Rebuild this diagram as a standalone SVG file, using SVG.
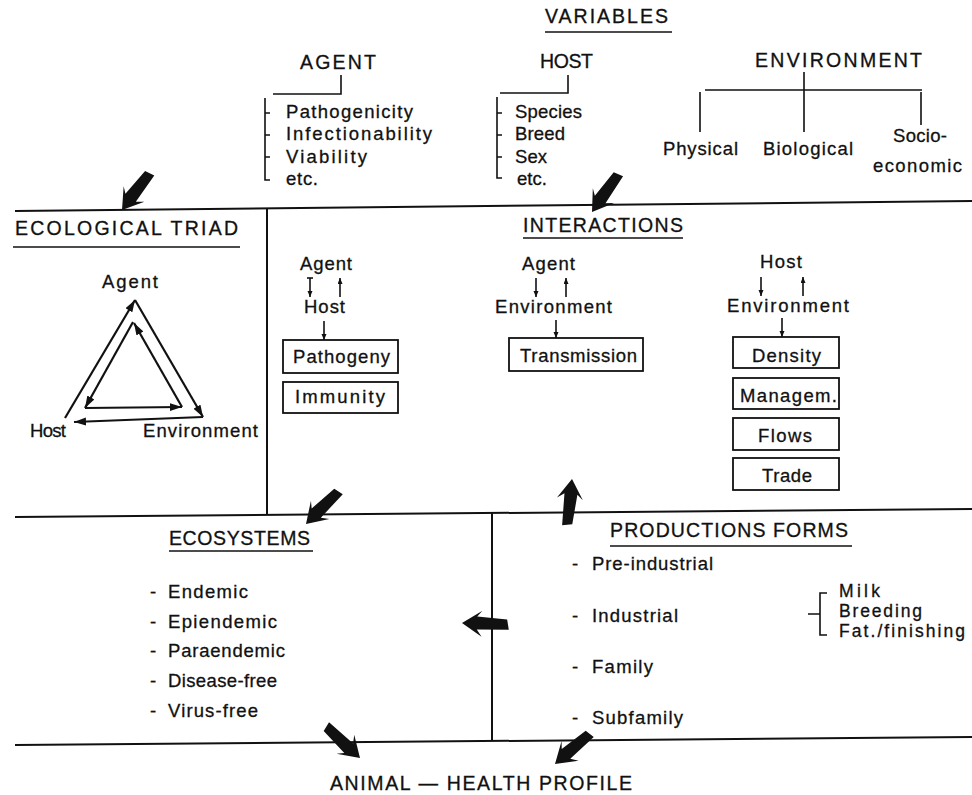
<svg xmlns="http://www.w3.org/2000/svg" xmlns:xlink="http://www.w3.org/1999/xlink" width="972" height="795" viewBox="0 0 972 795">
  <style>
    text { font-family: "Liberation Sans", Arial, sans-serif; fill: #111; stroke: #111; stroke-width: 0.3; }
    .title { font-size: 19.5px; }
    .body { font-size: 18.5px; }
    .small { font-size: 17.5px; }
    .rule { stroke: #111; stroke-width: 2; fill: none; }
    .thin { stroke: #111; stroke-width: 1.6; fill: none; }
    .box { stroke: #111; stroke-width: 1.8; fill: none; }
    .fat { fill: #111; }
  </style>
  <defs>
    <marker id="tri" markerUnits="userSpaceOnUse" markerWidth="14" markerHeight="10" refX="12" refY="4" orient="auto">
      <path d="M0,0 L12,4 L0,8 z" fill="#111"/>
    </marker>
    <marker id="sm" markerUnits="userSpaceOnUse" markerWidth="8" markerHeight="6" refX="6" refY="2.5" orient="auto">
      <path d="M0,0 L6,2.5 L0,5 z" fill="#111"/>
    </marker>
    <!-- heavy hand-drawn style arrow, tip at origin, pointing along +x -->
    <path id="fatArrow" d="M0,0 L-20,-13 L-15,-6 L-47,-5 L-45,5 L-15,7 L-20,13 Z"/>
  </defs>

  <rect width="972" height="795" fill="#fff"/>

  <!-- frame rules -->
  <g id="frame">
    <line class="rule" x1="15" y1="211" x2="972" y2="201"/>
    <line class="rule" x1="15" y1="517" x2="972" y2="509"/>
    <line class="rule" x1="15" y1="745" x2="972" y2="737"/>
    <line class="rule" x1="267" y1="208" x2="267" y2="515"/>
    <line class="rule" x1="492" y1="513" x2="492" y2="741"/>
  </g>

  <!-- VARIABLES -->
  <g id="variables">
    <text class="title" x="545" y="23" textLength="123" lengthAdjust="spacing">VARIABLES</text>
    <line class="thin" x1="545" y1="32" x2="672" y2="32"/>
  </g>

  <g id="agent-vars">
    <text class="title" x="300" y="69" textLength="76" lengthAdjust="spacing">AGENT</text>
    <path class="thin" d="M341,75 V94 H273"/>
    <path class="thin" d="M265,98 V180 h5 M265,113 h5 M265,135 h5 M265,157 h5"/>
    <text class="body" x="286" y="118" textLength="127" lengthAdjust="spacing">Pathogenicity</text>
    <text class="body" x="286" y="140" textLength="146" lengthAdjust="spacing">Infectionability</text>
    <text class="body" x="286" y="163" textLength="81" lengthAdjust="spacing">Viability</text>
    <text class="body" x="286" y="185" textLength="32" lengthAdjust="spacing">etc.</text>
  </g>

  <g id="host-vars">
    <text class="title" x="540" y="68" textLength="53" lengthAdjust="spacing">HOST</text>
    <path class="thin" d="M568,75 V93 H500"/>
    <path class="thin" d="M497,97 V178 h5 M497,113 h5 M497,135 h5 M497,157 h5"/>
    <text class="body" x="515" y="118" textLength="67" lengthAdjust="spacing">Species</text>
    <text class="body" x="515" y="140" textLength="50" lengthAdjust="spacing">Breed</text>
    <text class="body" x="515" y="163" textLength="32" lengthAdjust="spacing">Sex</text>
    <text class="body" x="517" y="185" textLength="30" lengthAdjust="spacing">etc.</text>
  </g>

  <g id="environment-vars">
    <text class="title" x="755" y="67" textLength="167" lengthAdjust="spacing">ENVIRONMENT</text>
    <path class="thin" d="M804,72 V132 M705,90 H922 M700,92 V132 M921,92 V125"/>
    <text class="body" x="663" y="155" textLength="75" lengthAdjust="spacing">Physical</text>
    <text class="body" x="763" y="155" textLength="90" lengthAdjust="spacing">Biological</text>
    <text class="body" x="893" y="142" textLength="54" lengthAdjust="spacing">Socio-</text>
    <text class="body" x="873" y="172" textLength="89" lengthAdjust="spacing">economic</text>
  </g>

  <!-- ECOLOGICAL TRIAD -->
  <g id="triad">
    <text class="title" x="15" y="235" textLength="223" lengthAdjust="spacing">ECOLOGICAL TRIAD</text>
    <line class="thin" x1="13" y1="247" x2="240" y2="247"/>
    <text class="body" x="102" y="288" textLength="56" lengthAdjust="spacing">Agent</text>
    <text class="body" x="30" y="437" textLength="36" lengthAdjust="spacing">Host</text>
    <text class="body" x="143" y="437" textLength="115" lengthAdjust="spacing">Environment</text>
    <g stroke="#111" stroke-width="2.2" fill="none">
      <!-- outer cycle -->
      <line x1="65" y1="418" x2="135" y2="300" marker-end="url(#tri)"/>
      <line x1="135" y1="300" x2="203" y2="417" marker-end="url(#tri)"/>
      <line x1="203" y1="417" x2="74" y2="422" marker-end="url(#tri)"/>
      <!-- inner cycle -->
      <line x1="133" y1="322" x2="85" y2="408" marker-end="url(#tri)"/>
      <line x1="85" y1="408" x2="182" y2="407" marker-end="url(#tri)"/>
      <line x1="182" y1="407" x2="134" y2="323" marker-end="url(#tri)"/>
    </g>
  </g>

  <!-- INTERACTIONS -->
  <g id="interactions">
    <text class="title" x="523" y="232" textLength="160" lengthAdjust="spacing">INTERACTIONS</text>
    <line class="thin" x1="523" y1="238" x2="683" y2="238"/>
  </g>

  <g id="agent-host">
    <text class="body" x="300" y="270" textLength="52" lengthAdjust="spacing">Agent</text>
    <text class="body" x="304" y="313" textLength="41" lengthAdjust="spacing">Host</text>
    <path class="thin" d="M307,278 h6"/>
    <line class="thin" x1="310" y1="278" x2="310" y2="297" marker-end="url(#sm)"/>
    <line class="thin" x1="340" y1="297" x2="340" y2="278" marker-end="url(#sm)"/>
    <line class="thin" x1="324" y1="321" x2="324" y2="340" marker-end="url(#sm)"/>
    <rect class="box" x="283" y="340" width="115" height="33"/>
    <text class="body" x="293" y="363" textLength="97" lengthAdjust="spacing">Pathogeny</text>
    <rect class="box" x="283" y="382" width="115" height="31"/>
    <text class="body" x="295" y="403" textLength="90" lengthAdjust="spacing">Immunity</text>
  </g>

  <g id="agent-environment">
    <text class="body" x="522" y="270" textLength="53" lengthAdjust="spacing">Agent</text>
    <text class="body" x="495" y="313" textLength="117" lengthAdjust="spacing">Environment</text>
    <line class="thin" x1="536" y1="278" x2="536" y2="297" marker-end="url(#sm)"/>
    <line class="thin" x1="566" y1="297" x2="566" y2="278" marker-end="url(#sm)"/>
    <line class="thin" x1="556" y1="320" x2="556" y2="338" marker-end="url(#sm)"/>
    <rect class="box" x="509" y="338" width="134" height="33"/>
    <text class="body" x="520" y="362" textLength="117" lengthAdjust="spacing">Transmission</text>
  </g>

  <g id="host-environment">
    <text class="body" x="760" y="268" textLength="42" lengthAdjust="spacing">Host</text>
    <text class="body" x="727" y="312" textLength="122" lengthAdjust="spacing">Environment</text>
    <line class="thin" x1="761" y1="277" x2="761" y2="296" marker-end="url(#sm)"/>
    <line class="thin" x1="803" y1="296" x2="803" y2="277" marker-end="url(#sm)"/>
    <line class="thin" x1="782" y1="318" x2="782" y2="337" marker-end="url(#sm)"/>
    <rect class="box" x="733" y="337" width="106" height="31"/>
    <text class="body" x="752" y="362" textLength="69" lengthAdjust="spacing">Density</text>
    <rect class="box" x="733" y="378" width="106" height="31"/>
    <text class="body" x="740" y="402" textLength="97" lengthAdjust="spacing">Managem.</text>
    <rect class="box" x="733" y="418" width="106" height="32"/>
    <text class="body" x="758" y="442" textLength="54" lengthAdjust="spacing">Flows</text>
    <rect class="box" x="733" y="458" width="106" height="32"/>
    <text class="body" x="762" y="482" textLength="50" lengthAdjust="spacing">Trade</text>
  </g>

  <!-- ECOSYSTEMS -->
  <g id="ecosystems">
    <text class="title" x="169" y="545" textLength="141" lengthAdjust="spacing">ECOSYSTEMS</text>
    <line class="thin" x1="169" y1="551" x2="313" y2="551"/>
    <text class="body" x="150" y="598">-</text>
    <text class="body" x="168" y="598" textLength="80" lengthAdjust="spacing">Endemic</text>
    <text class="body" x="150" y="628">-</text>
    <text class="body" x="168" y="628" textLength="109" lengthAdjust="spacing">Epiendemic</text>
    <text class="body" x="150" y="657">-</text>
    <text class="body" x="168" y="657" textLength="117" lengthAdjust="spacing">Paraendemic</text>
    <text class="body" x="150" y="687">-</text>
    <text class="body" x="168" y="687" textLength="109" lengthAdjust="spacing">Disease-free</text>
    <text class="body" x="150" y="717">-</text>
    <text class="body" x="168" y="717" textLength="90" lengthAdjust="spacing">Virus-free</text>
  </g>

  <!-- PRODUCTIONS FORMS -->
  <g id="production-forms">
    <text class="title" x="610" y="537" textLength="238" lengthAdjust="spacing">PRODUCTIONS FORMS</text>
    <line class="thin" x1="610" y1="546" x2="852" y2="546"/>
    <text class="body" x="572" y="570">-</text>
    <text class="body" x="592" y="570" textLength="121" lengthAdjust="spacing">Pre-industrial</text>
    <text class="body" x="572" y="622">-</text>
    <text class="body" x="592" y="622" textLength="86" lengthAdjust="spacing">Industrial</text>
    <text class="body" x="572" y="673">-</text>
    <text class="body" x="592" y="673" textLength="61" lengthAdjust="spacing">Family</text>
    <text class="body" x="572" y="724">-</text>
    <text class="body" x="592" y="724" textLength="91" lengthAdjust="spacing">Subfamily</text>
    <path class="thin" d="M827,593 H820 V635 H827 M808,614 H820"/>
    <text class="small" x="839" y="597" textLength="41" lengthAdjust="spacing">Milk</text>
    <text class="small" x="839" y="617" textLength="83" lengthAdjust="spacing">Breeding</text>
    <text class="small" x="839" y="637" textLength="126" lengthAdjust="spacing">Fat./finishing</text>
  </g>

  <!-- ANIMAL HEALTH PROFILE -->
  <g id="profile">
    <text class="title" x="330" y="790" textLength="302" lengthAdjust="spacing">ANIMAL — HEALTH PROFILE</text>
  </g>

  <!-- heavy flow arrows between sections -->
  <g id="connectors" class="fat">
    <use xlink:href="#fatArrow" transform="translate(122,210) rotate(127)"/>
    <use xlink:href="#fatArrow" transform="translate(592,212) rotate(125)"/>
    <use xlink:href="#fatArrow" transform="translate(306,524) rotate(135)"/>
    <use xlink:href="#fatArrow" transform="translate(572,479) rotate(276)"/>
    <use xlink:href="#fatArrow" transform="translate(462,623) rotate(182)"/>
    <use xlink:href="#fatArrow" transform="translate(360,758) rotate(43)"/>
    <use xlink:href="#fatArrow" transform="translate(555,764) rotate(139)"/>
  </g>
</svg>
